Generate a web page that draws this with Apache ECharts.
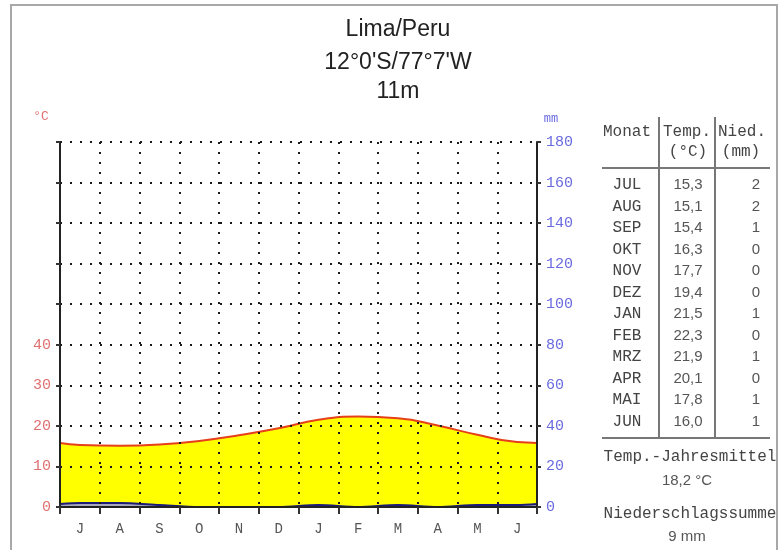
<!DOCTYPE html>
<html>
<head>
<meta charset="utf-8">
<script src="https://cdn.jsdelivr.net/npm/echarts@6/dist/echarts.min.js"></script>
<style>html,body{margin:0;padding:0;background:#fff}#c{width:779px;height:550px}</style>
</head>
<body>
<div id="c"></div>
<script>
// ---- data ----
var monthLetters = ['J','A','S','O','N','D','J','F','M','A','M','J'];
var monthAbbrev = ['JUL','AUG','SEP','OKT','NOV','DEZ','JAN','FEB','MRZ','APR','MAI','JUN'];
var tempValues = [15.3,15.1,15.4,16.3,17.7,19.4,21.5,22.3,21.9,20.1,17.8,16.0];
var precipValues = [2,2,1,0,0,0,1,0,1,0,1,1];
var tempEdge = 15.8;     // curve height at the left/right border
var precipEdge = 1.5;    // precip line height at the borders
var tempTickLabels = [0,10,20,30,40];
var precipTickLabels = [0,20,40,60,80,100,120,140,160,180];
var titleLines = ['Lima/Peru', "12°0'S/77°7'W", '11m'];
var tempMean = '18,2 °C';
var precipSum = '9 mm';

// build series points at month centres
var tempData = [[0, tempEdge]];
tempValues.forEach(function(v,i){ tempData.push([i+0.5, v]); });
tempData.push([12, tempEdge]);
var precData = [[0, precipEdge]];
precipValues.forEach(function(v,i){ precData.push([i+0.5, v]); });
precData.push([12, precipEdge]);

var chart = echarts.init(document.getElementById('c'), null, {renderer:'canvas'});

var mono = "'Liberation Mono', 'DejaVu Sans Mono', monospace";
var sans = "'Liberation Sans', Arial, sans-serif";
var dotted = {color:'#1a1a1a', width:2, type:[2,8]};

// table graphics
var g = [];
g.push({type:'rect', shape:{x:11,y:5,width:766,height:560}, style:{fill:'none', stroke:'#a8a8a8', lineWidth:2}, z:0});
function txt(t,x,y,font,fill,align){
  g.push({type:'text', x:x, y:y, style:{text:t, font:font, fill:fill, align:align||'center', verticalAlign:'middle', textAlign:align||'center', textVerticalAlign:'middle'}});
}
// titles
titleLines.forEach(function(t,i){
  txt(t, 398, [30,63,92][i], '23px ' + sans, '#222');
});
var hdrFont = '16px ' + mono;
txt('Monat', 627, 132, hdrFont, '#444');
txt('Temp.', 687, 132, hdrFont, '#444');
txt('Nied.', 742, 132, hdrFont, '#444');
txt('(°C)', 688, 152, hdrFont, '#444');
txt('(mm)', 741, 152, hdrFont, '#444');
var rowY0 = 185, rowStep = 21.5;
monthAbbrev.forEach(function(m,i){
  var y = rowY0 + i*rowStep;
  txt(m, 627, y, hdrFont, '#444');
  txt(tempValues[i].toFixed(1).replace('.', ','), 688, y, '15px ' + sans, '#555');
  txt(String(precipValues[i]), 760, y, '15px ' + sans, '#555', 'right');
});
g.push({type:'line', shape:{x1:602,y1:168,x2:770,y2:168}, style:{stroke:'#777', lineWidth:2}});
g.push({type:'line', shape:{x1:602,y1:438,x2:770,y2:438}, style:{stroke:'#777', lineWidth:2}});
g.push({type:'line', shape:{x1:659,y1:117,x2:659,y2:438}, style:{stroke:'#777', lineWidth:2}});
g.push({type:'line', shape:{x1:715,y1:117,x2:715,y2:438}, style:{stroke:'#777', lineWidth:2}});
txt('Temp.-Jahresmittel', 690, 457, hdrFont, '#444');
txt(tempMean, 687, 481, '15px ' + sans, '#555');
txt('Niederschlagssumme', 690, 514, hdrFont, '#444');
txt(precipSum, 687, 537, '15px ' + sans, '#555');
txt('°C', 41, 117, '13px ' + mono, '#e07070');
txt('mm', 551, 119, '12px ' + mono, '#6a6ae0');

chart.setOption({
  animation:false,
  backgroundColor:'#fff',
  grid:{left:60, right:242, top:142, bottom:43, containLabel:false},
  xAxis:{
    type:'value', min:0, max:12, interval:1, z:3,
    axisLine:{show:true, onZero:false, lineStyle:{color:'#222', width:2}},
    axisTick:{show:true, length:7, lineStyle:{color:'#333', width:2}},
    axisLabel:{customValues:[0.5,1.5,2.5,3.5,4.5,5.5,6.5,7.5,8.5,9.5,10.5,11.5],
      formatter:function(v){ return monthLetters[Math.floor(v)]; },
      margin:15, color:'#555', fontFamily:mono, fontSize:14},
    splitLine:{show:true, lineStyle:dotted}
  },
  yAxis:[
    {type:'value', min:0, max:90, interval:10, position:'left', z:3,
      axisLine:{show:true, lineStyle:{color:'#222', width:2}},
      axisTick:{show:true, length:4, lineStyle:{color:'#333', width:2}},
      axisLabel:{formatter:function(v){ return tempTickLabels.indexOf(v) >= 0 ? String(v) : ''; },
        color:'#e07070', fontFamily:mono, fontSize:15, margin:9},
      splitLine:{show:false}},
    {type:'value', min:0, max:180, interval:20, position:'right', z:3,
      axisLine:{show:true, lineStyle:{color:'#222', width:2}},
      axisTick:{show:true, length:4, lineStyle:{color:'#333', width:2}},
      axisLabel:{formatter:function(v){ return precipTickLabels.indexOf(v) >= 0 ? String(v) : ''; },
        color:'#6a6ae0', fontFamily:mono, fontSize:15, margin:9},
      splitLine:{show:true, lineStyle:dotted}}
  ],
  series:[
    {type:'line', name:'Temp', yAxisIndex:0, data:tempData, smooth:0.5, symbol:'none',
      lineStyle:{color:'#e5401a', width:2}, areaStyle:{color:'#ffff00', opacity:1}, z:2},
    {type:'line', name:'Nied', yAxisIndex:1, data:precData, smooth:0.3, symbol:'none',
      lineStyle:{color:'#1c1c78', width:2}, areaStyle:{color:'#a8a8bc', opacity:1}, z:2.5}
  ],
  graphic: g
});
</script>
</body>
</html>
